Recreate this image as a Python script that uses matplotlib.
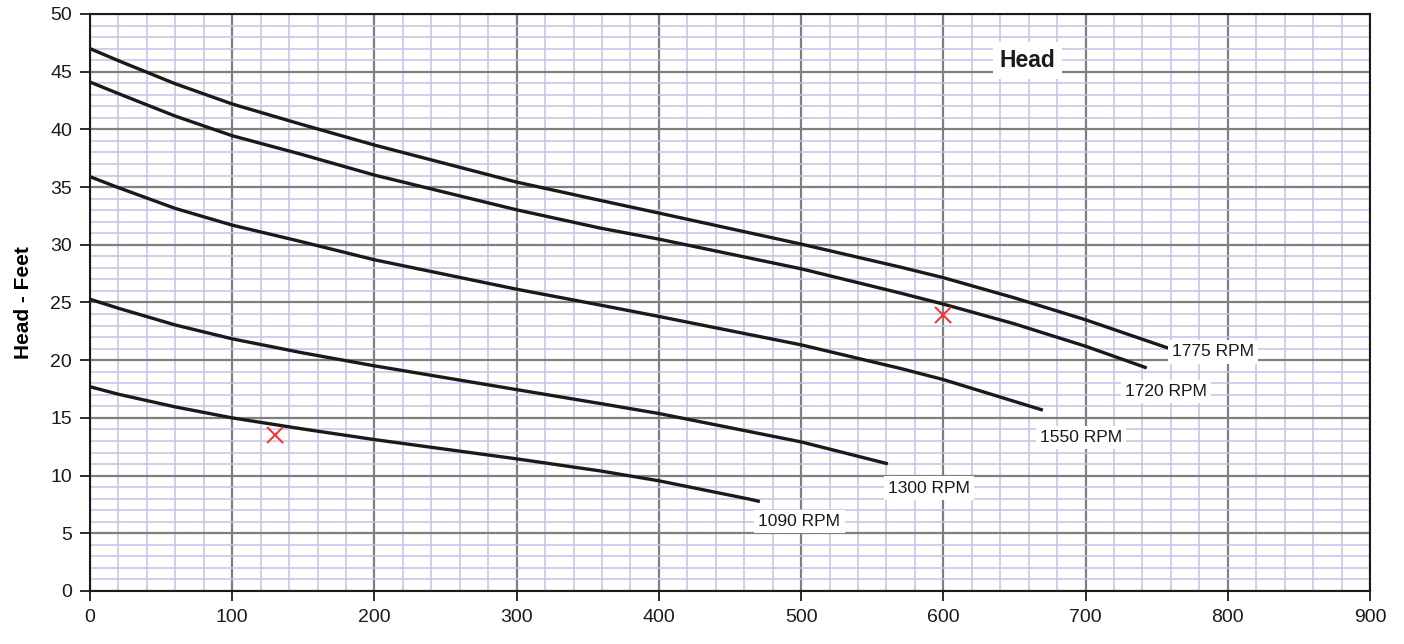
import matplotlib
matplotlib.use("Agg")
import matplotlib.pyplot as plt
from matplotlib.ticker import MultipleLocator

# flow (x) and head (y), one pair of lists per speed
x_1775 = [0, 20, 60, 100, 148, 200, 300, 359, 400, 500, 570, 600, 650, 700, 759]
y_1775 = [47.0, 45.95, 43.95, 42.2, 40.46, 38.64, 35.43, 33.84, 32.75, 30.06, 28.06, 27.15, 25.4, 23.5, 21.01]

x_1720 = [0, 20, 60, 100, 148, 200, 300, 359, 400, 500, 570, 600, 650, 700, 743]
y_1720 = [44.1, 43.1, 41.15, 39.45, 37.86, 36.04, 33.03, 31.44, 30.49, 27.92, 25.81, 24.86, 23.15, 21.21, 19.33]

x_1550 = [0, 20, 60, 100, 148, 200, 300, 359, 400, 500, 570, 600, 670]
y_1550 = [35.9, 34.95, 33.15, 31.7, 30.29, 28.70, 26.15, 24.77, 23.79, 21.33, 19.28, 18.32, 15.67]

x_1300 = [0, 20, 60, 100, 148, 200, 300, 359, 400, 500, 561]
y_1300 = [25.28, 24.5, 23.05, 21.85, 20.67, 19.51, 17.45, 16.24, 15.38, 12.92, 11.02]

x_1090 = [0, 20, 60, 100, 148, 200, 300, 359, 400, 464, 471]
y_1090 = [17.7, 17.05, 15.95, 15.0, 14.07, 13.12, 11.45, 10.4, 9.55, 7.95, 7.75]

curve_names = ["1775 RPM", "1720 RPM", "1550 RPM", "1300 RPM", "1090 RPM"]

# duty points (red crosses)
duty_x = [130, 600]
duty_y = [13.5, 23.9]

plt.rcParams["font.family"] = ["Liberation Sans", "DejaVu Sans"]

fig = plt.figure(figsize=(14.04, 6.44), dpi=100)
ax = fig.add_axes([0.0641, 0.0823, 0.9117, 0.896])

ax.set_xlim(0, 900)
ax.set_ylim(0, 50)
ax.xaxis.set_major_locator(MultipleLocator(100))
ax.xaxis.set_minor_locator(MultipleLocator(20))
ax.yaxis.set_major_locator(MultipleLocator(5))
ax.yaxis.set_minor_locator(MultipleLocator(1))

ax.grid(which="minor", color="#c6c0e6", lw=1.1, zorder=0)
ax.grid(which="major", color="#7f7f7f", lw=1.6, zorder=1)
ax.set_axisbelow(True)

curves = [(x_1775, y_1775), (x_1720, y_1720), (x_1550, y_1550),
          (x_1300, y_1300), (x_1090, y_1090)]
for xs, ys in curves:
    ax.plot(xs, ys, color="#1a1a1a", lw=2.4, solid_capstyle="butt",
            solid_joinstyle="round", zorder=4)

ax.plot(duty_x, duty_y, "x", color="#ff2a2a", markersize=11, mew=1.4, zorder=5)

box = dict(facecolor="white", edgecolor="none", pad=3)
# label offsets relative to each curve end
offsets = [(2, -0.3), (-15, -2.05), (-2, -2.35), (0, -2.1), (-1, -1.7)]
for (xs, ys), name, (dx, dy) in zip(curves, curve_names, offsets):
    ax.text(xs[-1] + dx, ys[-1] + dy, name, fontsize=12.5, ha="left", va="center",
            color="#1a1a1a", bbox=box, zorder=6)

ax.text(659, 45.95, "Head", fontsize=16.5, fontweight="bold", ha="center", va="center",
        color="#1a1a1a", bbox=dict(facecolor="white", edgecolor="none", pad=5), zorder=6)

ax.set_ylabel("Head - Feet", fontsize=15, fontweight="bold", labelpad=12)

for s in ax.spines.values():
    s.set_linewidth(1.5)
    s.set_color("#1a1a1a")
ax.tick_params(which="major", direction="out", length=7, width=1.3,
               labelsize=14, pad=6, colors="#1a1a1a")
ax.tick_params(which="minor", length=0)

fig.savefig("out.png", dpi=100)
